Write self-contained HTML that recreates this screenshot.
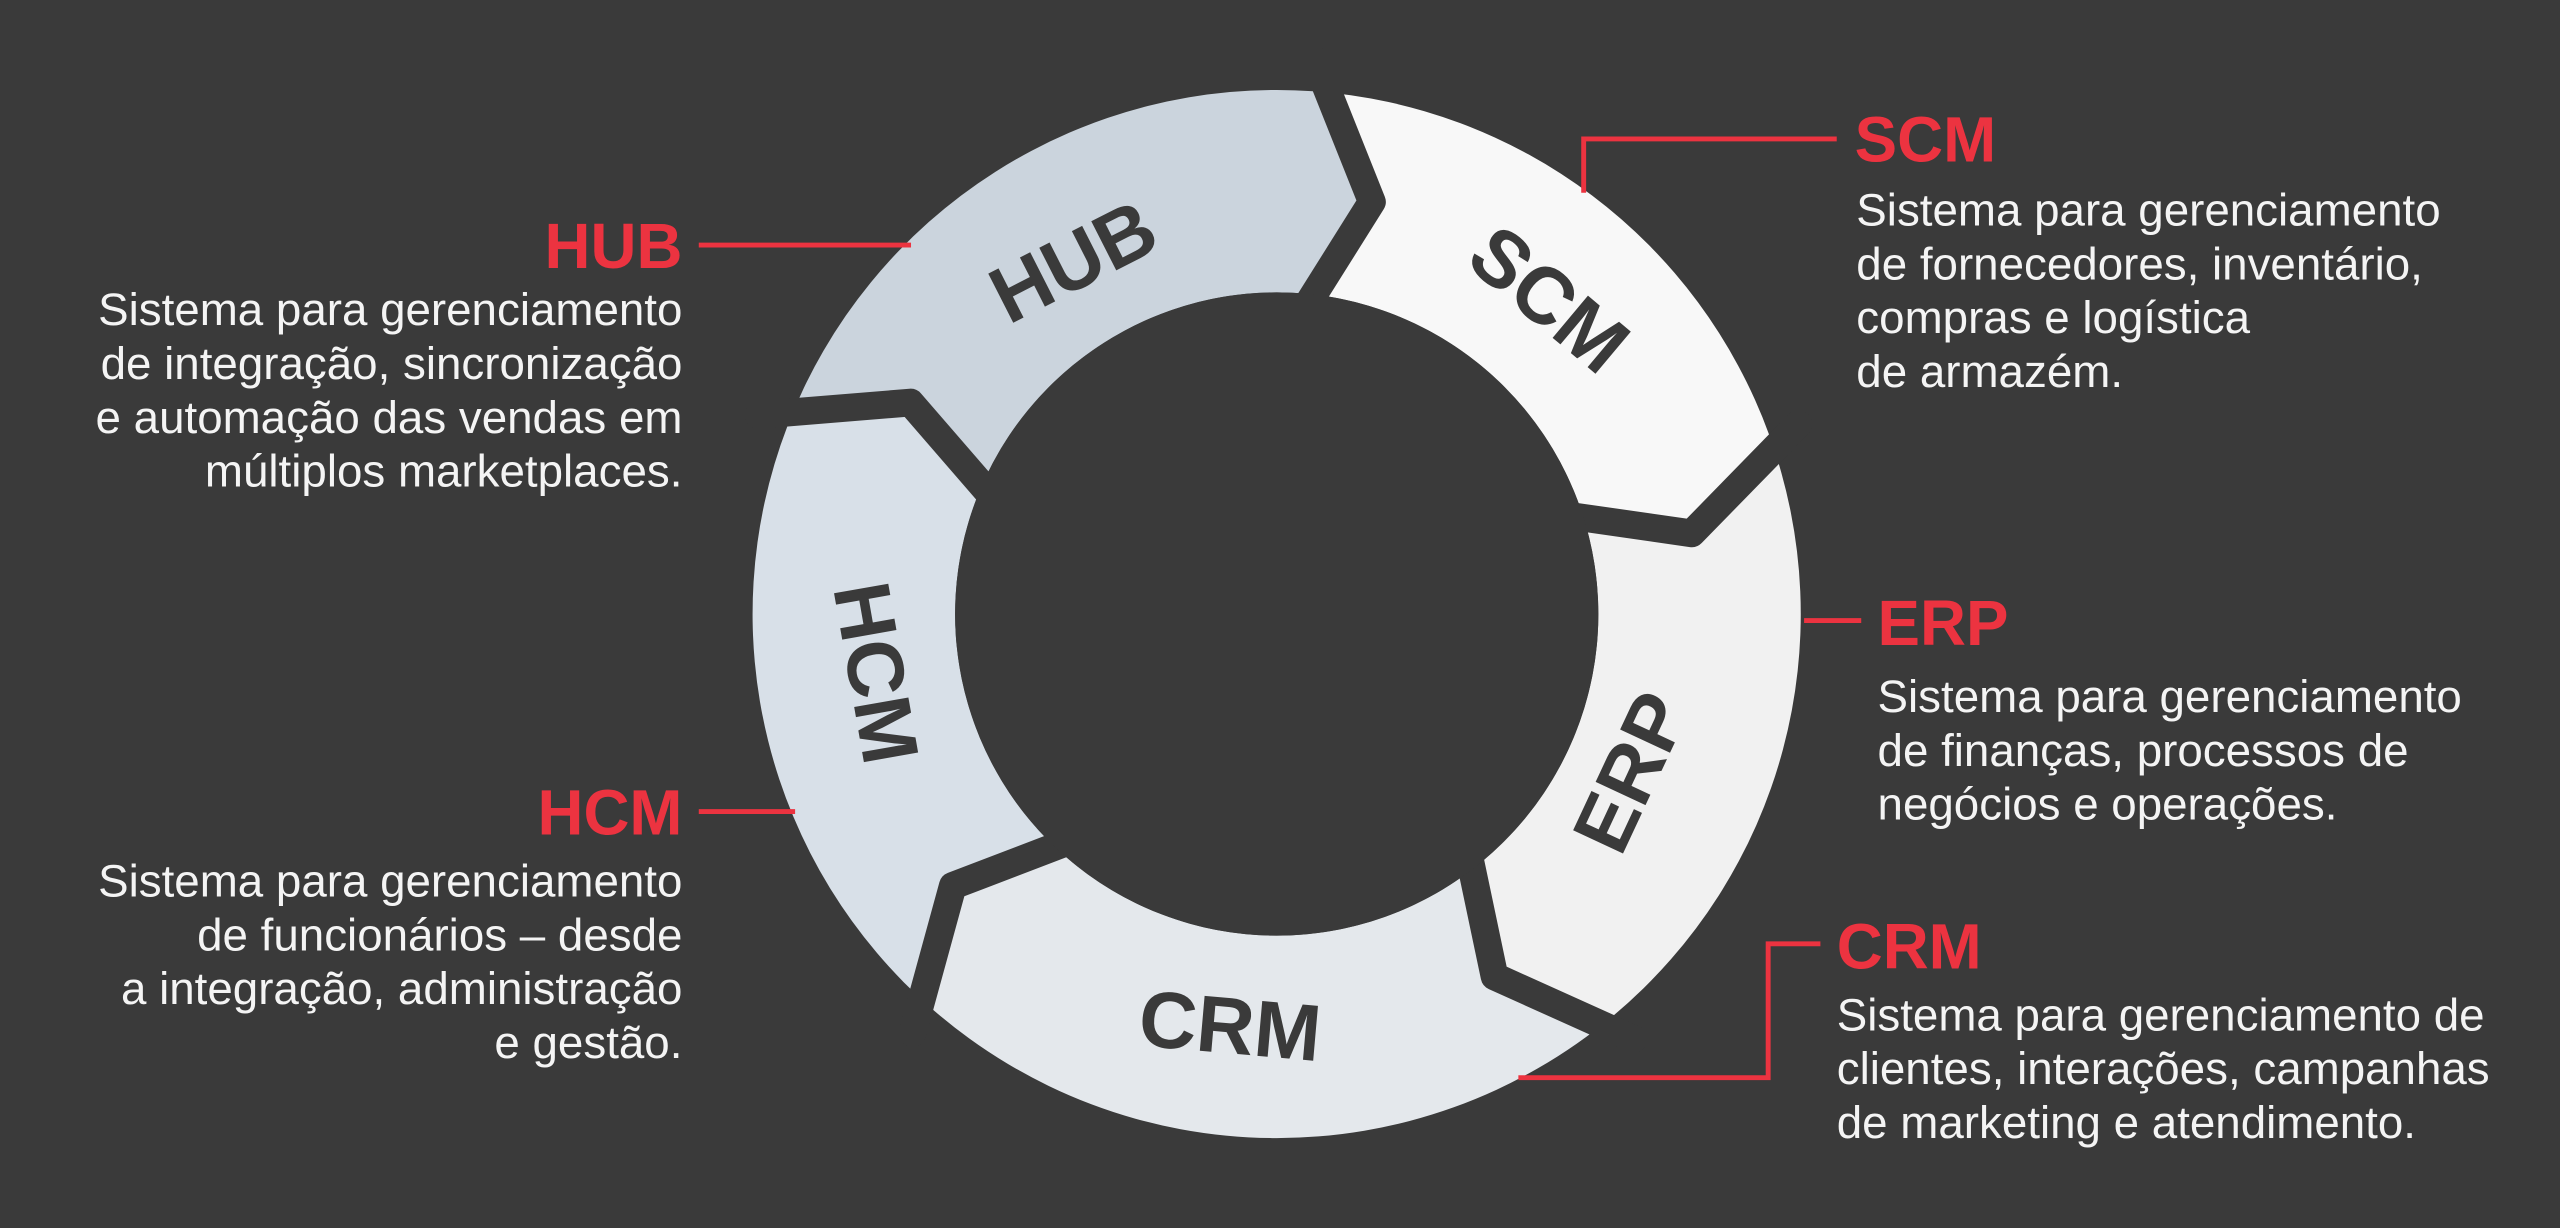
<!DOCTYPE html>
<html><head><meta charset="utf-8"><style>
html,body{margin:0;padding:0;background:#3a3a3a;}
svg{display:block}
.b{font-family:"Liberation Sans",sans-serif;font-size:28px;fill:#f4f4f4}
.t{font-family:"Liberation Sans",sans-serif;font-size:39px;font-weight:bold;fill:#ec3340}
.r{font-family:"Liberation Sans",sans-serif;font-size:49px;font-weight:bold;fill:#3a3a3a}
</style></head><body>
<svg width="2560" height="1228" viewBox="0 0 1568 752" xmlns="http://www.w3.org/2000/svg">
<rect width="1568" height="752" fill="#3a3a3a"/>
<path d="M482.3,260.9 L557.7,246.5 L598.1,305.4 A197,197 0 0 1 795.8,179.5 L840.3,123.6 L804.4,55.8 A321,321 0 0 0 482.3,260.9Z" fill="#cbd4dd"/>
<path d="M804.4,55.8 L840.3,123.6 L795.8,179.5 A197,197 0 0 1 967.1,308.6 L1036.2,326.6 L1083.6,266.2 A321,321 0 0 0 804.4,55.8Z" fill="#f8f8f8"/>
<path d="M1083.6,266.2 L1036.2,326.6 L967.1,308.6 A197,197 0 0 1 908.6,526.9 L915.4,598 L988.3,621.9 A321,321 0 0 0 1083.6,266.2Z" fill="#f1f1f1"/>
<path d="M988.3,621.9 L915.4,598 L908.6,526.9 A197,197 0 0 1 652.7,524.7 L583.6,542.5 L571.4,618.3 A321,321 0 0 0 988.3,621.9Z" fill="#e4e8ec"/>
<path d="M571.4,618.3 L583.6,542.5 L652.7,524.7 A197,197 0 0 1 598.1,305.4 L557.7,246.5 L482.3,260.9 A321,321 0 0 0 571.4,618.3Z" fill="#d8e0e8"/>
<g fill="none" stroke="#3a3a3a" stroke-width="17" stroke-linejoin="round" stroke-linecap="round">
<polyline points="805.7,36.8 840.3,123.6 794.6,196.4"/>
<polyline points="1101.5,259.7 1036.2,326.6 951.1,314.4"/>
<polyline points="1000.6,636.4 915.4,598 897.7,513.9"/>
<polyline points="558.9,632.6 583.6,542.5 663.9,511.8"/>
<polyline points="464.6,254.1 557.7,246.5 614,311.5"/>
</g>
<circle cx="782" cy="376" r="197" fill="#3a3a3a"/>
<text class="r" text-anchor="middle" transform="translate(665,175) rotate(-27)">HUB</text>
<text class="r" text-anchor="middle" transform="translate(938,196) rotate(40)">SCM</text>
<text class="r" text-anchor="middle" transform="translate(1014,480) rotate(-65)">ERP</text>
<text class="r" text-anchor="middle" transform="translate(752,645) rotate(5)">CRM</text>
<text class="r" text-anchor="middle" transform="translate(520,415) rotate(80)">HCM</text>
<g fill="none" stroke="#ec3340" stroke-width="3">
<polyline points="428,150 558,150"/>
<polyline points="970,118 970,85 1125,85"/>
<polyline points="1105,380 1140,380"/>
<polyline points="428,497 487,497"/>
<polyline points="930,660 1083,660 1083,578 1115,578"/>
</g>
<text class="t" x="418" y="164" text-anchor="end">HUB</text>
<text class="b" text-anchor="end"><tspan x="418" y="199">Sistema para gerenciamento</tspan><tspan x="418" y="232">de integração, sincronização</tspan><tspan x="418" y="265">e automação das vendas em</tspan><tspan x="418" y="298">múltiplos marketplaces.</tspan></text>
<text class="t" x="1136" y="99">SCM</text>
<text class="b"><tspan x="1137" y="138">Sistema para gerenciamento</tspan><tspan x="1137" y="171">de fornecedores, inventário,</tspan><tspan x="1137" y="204">compras e logística</tspan><tspan x="1137" y="237">de armazém.</tspan></text>
<text class="t" x="1150" y="395">ERP</text>
<text class="b"><tspan x="1150" y="436">Sistema para gerenciamento</tspan><tspan x="1150" y="469">de finanças, processos de</tspan><tspan x="1150" y="502">negócios e operações.</tspan></text>
<text class="t" x="418" y="511" text-anchor="end">HCM</text>
<text class="b" text-anchor="end"><tspan x="418" y="549">Sistema para gerenciamento</tspan><tspan x="418" y="582">de funcionários – desde</tspan><tspan x="418" y="615">a integração, administração</tspan><tspan x="418" y="648">e gestão.</tspan></text>
<text class="t" x="1125" y="593">CRM</text>
<text class="b"><tspan x="1125" y="631">Sistema para gerenciamento de</tspan><tspan x="1125" y="664">clientes, interações, campanhas</tspan><tspan x="1125" y="697">de marketing e atendimento.</tspan></text>
</svg>
</body></html>
